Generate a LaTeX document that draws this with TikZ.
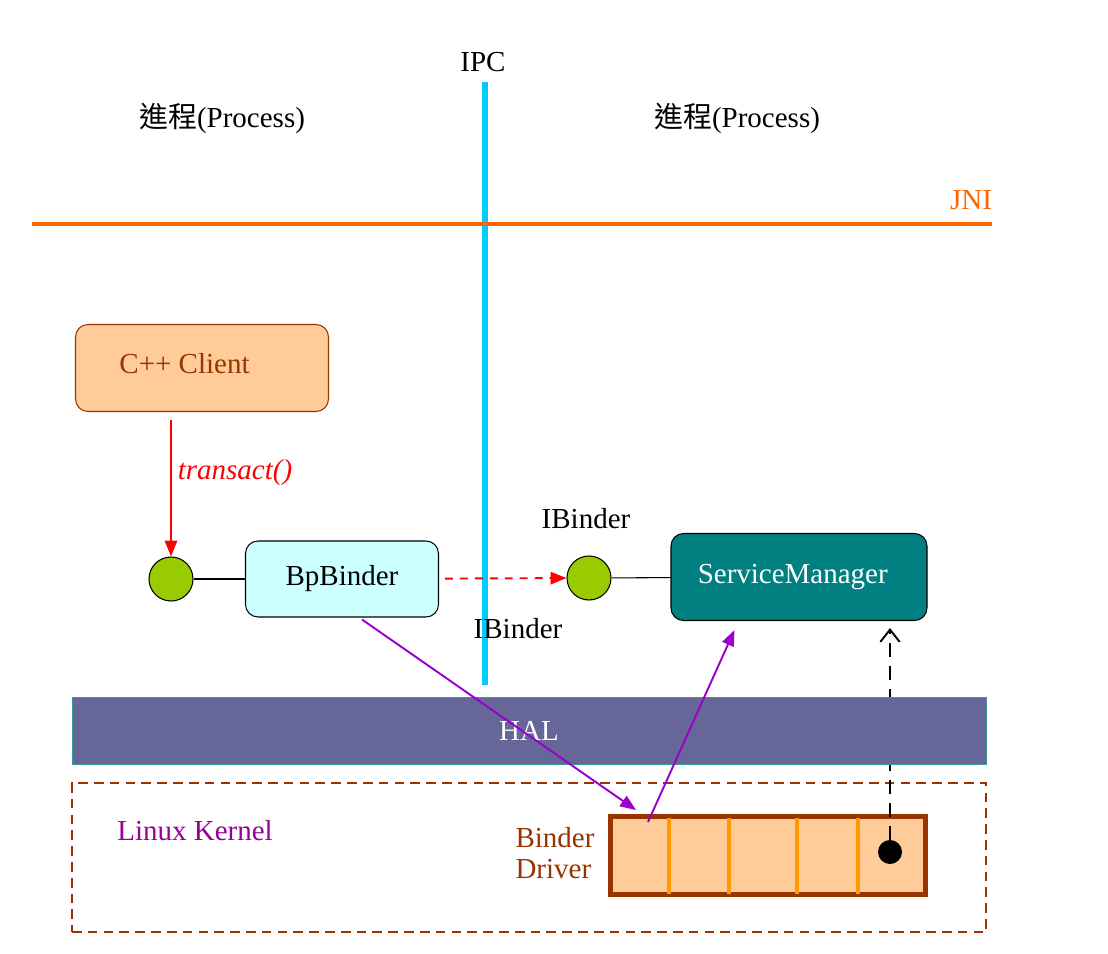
\documentclass[tikz,border=0pt]{standalone}
\usepackage{fontspec}
\setmainfont{Liberation Serif}
\newfontfamily\cjk{Noto Sans CJK TC}
\usepackage{tikz}
\usetikzlibrary{arrows.meta, positioning, calc}
\definecolor{ipcblue}{HTML}{00CCFF}
\definecolor{jniorange}{HTML}{FF6600}
\definecolor{clientfill}{HTML}{FFCC99}
\definecolor{clientbrown}{HTML}{993300}
\definecolor{bpcyan}{HTML}{CCFFFF}
\definecolor{smteal}{HTML}{008080}
\definecolor{portgreen}{HTML}{99CC00}
\definecolor{callpurple}{HTML}{9900CC}
\definecolor{halfill}{HTML}{666699}
\definecolor{halteal}{HTML}{339999}
\definecolor{kernelpurple}{HTML}{990099}
\definecolor{driverorange}{HTML}{FF9900}

\begin{document}
\begin{tikzpicture}[x=0.2mm, y=-0.2mm, font=\fontsize{16.5}{18}\selectfont,
  box/.style={draw, rounded corners=2.5mm, line width=0.6pt},
  port/.style={circle, draw, fill=portgreen, minimum size=8.8mm, inner sep=0pt, line width=0.6pt},
  call/.style={line width=1.1pt, -{Triangle[length=9pt,width=7pt]}}]
\useasboundingbox (0,0) rectangle (1108,954);
% process borders
\draw[ipcblue, line width=3.4pt] (485,82) -- (485,685);
\draw[jniorange, line width=2.8pt] (32,224) -- (992,224);
\node (ipc) at (483,62) {IPC};
\node (procl) at (222,118) {{\cjk 進程}(Process)};
\node (procr) at (737,118) {{\cjk 進程}(Process)};
\node[text=jniorange] (jni) at (971,200) {JNI};

% client side
\node[box, draw=clientbrown, fill=clientfill, text=clientbrown, minimum width=50.6mm, minimum height=17.4mm] (client) at (202,368) {\raisebox{2mm}{C++ Client}\hspace*{7mm}};
\node[port] (p1) at (171,579) {};
\node[box, fill=bpcyan, minimum width=38.6mm, minimum height=15.2mm] (bp) at (342,579) {\raisebox{0.8mm}{BpBinder}};

% server side
\node[port] (p2) at (589,578) {};
\node[box, fill=smteal, text=white, minimum width=51.2mm, minimum height=17.4mm] (sm) at (799,577) {\raisebox{0.8mm}{ServiceManager}\hspace*{2.5mm}};
\node (ib1) at (586,519) {IBinder};
\node (ib2) at (518,629) {IBinder};

% kernel
\node[draw=clientbrown, line width=0.8pt, dash pattern=on 5.5pt off 3.5pt, minimum width=182.8mm, minimum height=29.8mm] (kernel) at (529,857.5) {};
\node[text=kernelpurple] (lk) at (195,831) {Linux Kernel};
\node[text=clientbrown, align=left] (bd) at (555,853) {Binder\\Driver};
\node[draw=clientbrown, line width=2.8pt, fill=clientfill, minimum width=63mm, minimum height=15.6mm] (driver) at (768,855.5) {};
\foreach \x in {669,729,797,858}
  \draw[driverorange, line width=2.3pt] (\x,818) -- (\x,894);
\node[circle, fill=black, minimum size=4.8mm, inner sep=0pt] (dot) at (890,852) {};
\coordinate (din) at (636,810);
\coordinate (dout) at (648,822);
\draw[line width=1.1pt, dash pattern=on 8pt off 5pt, shorten >=1.4mm, -{Straight Barb[length=7pt,width=11pt]}] (dot) -- (dot |- sm.south);

% HAL
\node[draw=halteal, fill=halfill, text=white, minimum width=182.8mm, minimum height=13.4mm, inner sep=0pt] (hal) at (529,730.5) {HAL};

% connectors
\draw[red, call, shorten <=1.6mm] (client.south -| p1) -- (p1.north)
  node[pos=0.42, right] {\itshape transact()};
\draw[line width=0.6pt] (p1) -- (bp);
\draw[red, call, dash pattern=on 4.5pt off 4pt, shorten <=1.2mm] (bp) -- (p2);
\draw[line width=0.6pt] (p2) -- (sm);
\draw[callpurple, call] ($(bp.south)+(20,2)$) -- (din);
\draw[callpurple, call] (dout) -- ($(sm.south west)+(64,9)$);
\end{tikzpicture}
\end{document}
